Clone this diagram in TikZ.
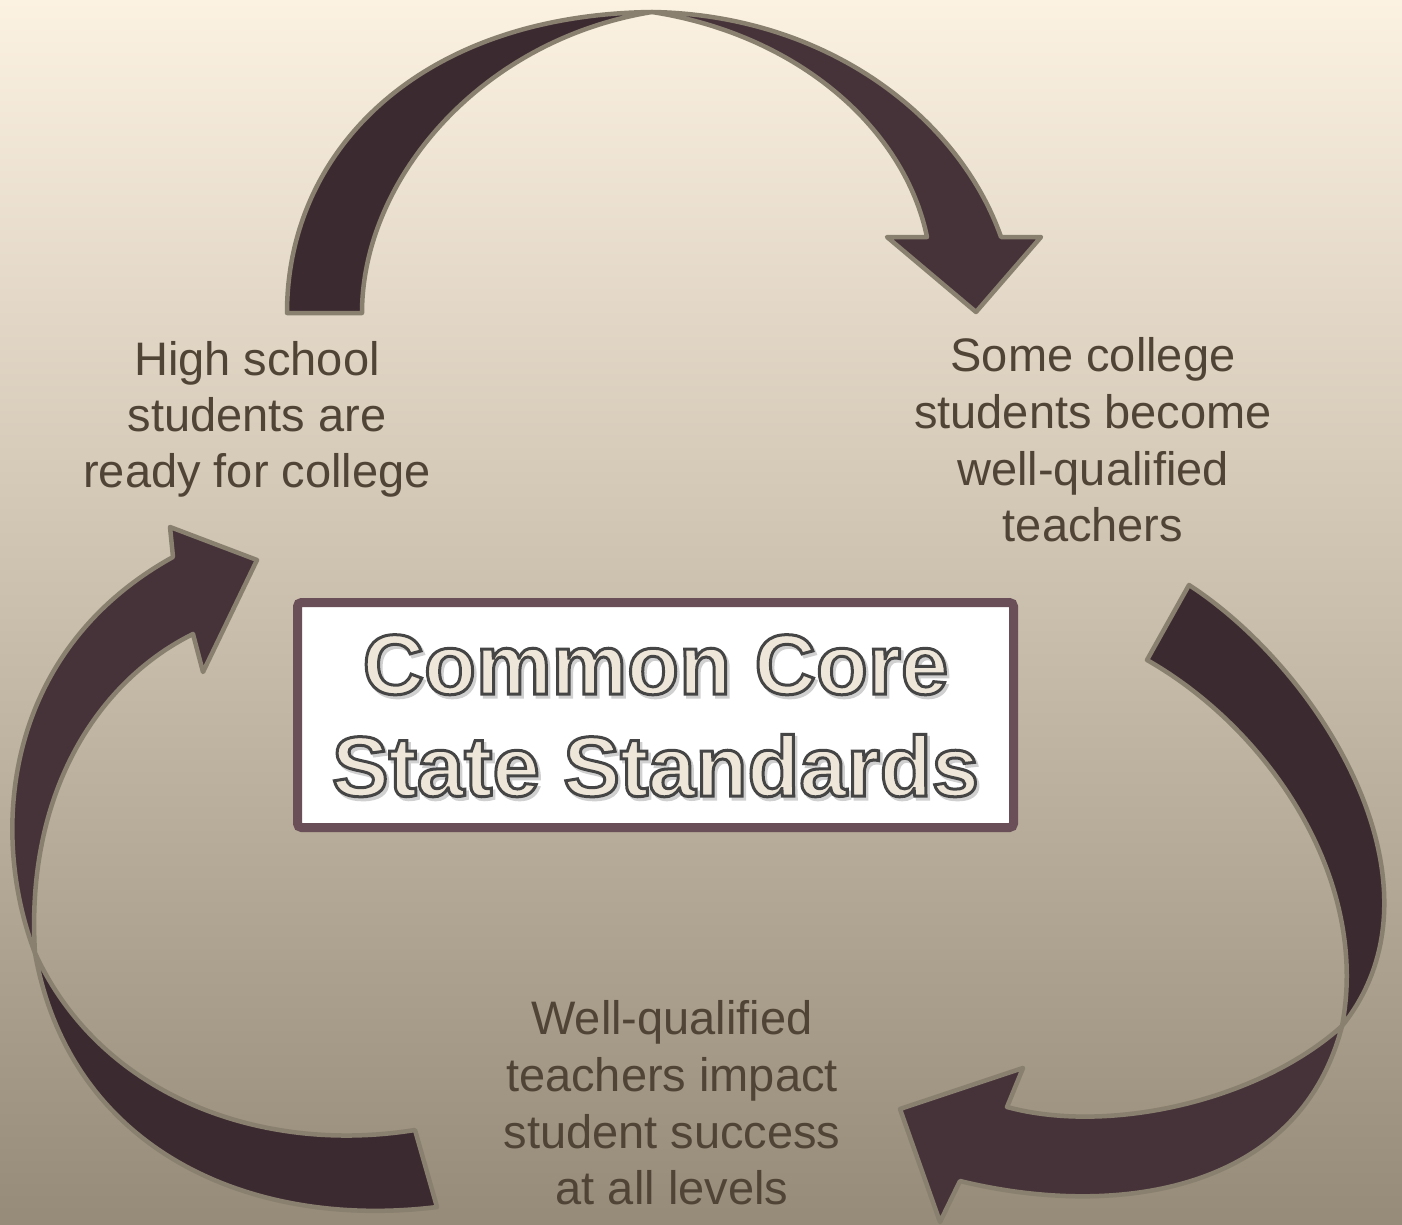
\documentclass[tikz,border=0pt]{standalone}
\usepackage{fontspec}
\setmainfont{Liberation Sans}
\definecolor{bgtop}{RGB}{252,242,226}
\definecolor{bgmid}{RGB}{202,190,172}
\definecolor{bgbot}{RGB}{150,138,120}
\definecolor{arrowdark}{RGB}{60,42,49}
\definecolor{arrowlight}{RGB}{70,51,58}
\definecolor{arrowline}{RGB}{137,128,111}
\definecolor{labelc}{RGB}{80,68,55}
\definecolor{boxc}{RGB}{106,78,88}
\definecolor{creamc}{RGB}{238,230,216}
\definecolor{shadlt}{RGB}{208,208,208}
% outlined text: fill with current colour, stroke with given width and colour
\newcommand\strokedtext[3]{\special{pdf:literal 2 Tr #1 w #2 RG}#3\special{pdf:literal 0 Tr}}
% outlined text with a soft drop shadow behind it
\newcommand\shadowedtitle[1]{\rlap{\kern2.5pt\raisebox{-3pt}{\color{shadlt}\strokedtext{3}{0.815 0.815 0.815}{#1}}}\strokedtext{3}{0.27 0.27 0.27}{#1}}
\begin{document}
\begin{tikzpicture}[x=1pt,y=-1pt,
  tailc/.style={fill=arrowdark, draw=arrowline, line width=4.5pt, line join=round},
  headc/.style={fill=arrowlight, draw=arrowline, line width=4.5pt, line join=round},
  lbl/.style={text=labelc, font=\fontsize{47}{56}\selectfont, anchor=base, inner sep=0pt},
  ttl/.style={text=creamc, font=\fontsize{85}{85}\selectfont\bfseries, anchor=base, inner sep=0pt},
  boxstyle/.style={draw=boxc, fill=white, line width=9pt, rounded corners=4pt, minimum width=716pt, minimum height=225pt, inner sep=0pt}
]
\shade[top color=bgtop, bottom color=bgbot, middle color=bgmid] (0,0) rectangle (1402,1225);
\useasboundingbox (0,0) rectangle (1402,1225);

% top arrow
\path[tailc] (287,313) -- (362,313) .. controls (362,180) and (480,40) .. (652,12)
  .. controls (420,15) and (287,150) .. (287,313) -- cycle;
\path[headc] (652,12) .. controls (830,15) and (960,120) .. (1001,237) -- (1041,237) -- (976,312)
  -- (887,237) -- (927,237) .. controls (905,130) and (800,35) .. (652,12) -- cycle;

% right arrow
\path[tailc] (1189,585) .. controls (1320,670) and (1455,885) .. (1342,1026)
  .. controls (1370,880) and (1270,730) .. (1147,660) -- cycle;
\path[headc] (1342,1026) .. controls (1300,1190) and (1120,1220) .. (960,1181) -- (940,1222)
  -- (900,1109) -- (1023,1068) -- (1007,1107) .. controls (1110,1135) and (1260,1100) .. (1342,1026) -- cycle;

% left arrow
\path[tailc] (415,1130) -- (437,1207) .. controls (250,1230) and (70,1150) .. (35,953)
  .. controls (100,1095) and (260,1155) .. (415,1130) -- cycle;
\path[headc] (35,953) .. controls (-12,830) and (5,650) .. (173,557) -- (170,527) -- (257,560)
  -- (203,672) -- (193,634) .. controls (100,680) and (25,790) .. (35,953) -- cycle;

% labels
\node[lbl] (hs1) at (257,375) {High school};
\node[lbl] (hs2) at (257,431) {students are};
\node[lbl] (hs3) at (257,487) {ready for college};

\node[lbl] (sc1) at (1093,371) {Some college};
\node[lbl] (sc2) at (1093,428) {students become};
\node[lbl] (sc3) at (1093,485) {well-qualified};
\node[lbl] (sc4) at (1093,541) {teachers};

\node[lbl] (wq1) at (672,1034) {Well-qualified};
\node[lbl] (wq2) at (672,1091) {teachers impact};
\node[lbl] (wq3) at (672,1148) {student success};
\node[lbl] (wq4) at (672,1204) {at all levels};

% center box
\node[boxstyle] (ccss) at (655.5,715) {};
\node[ttl] (ccA) at (655.5,694) {\shadowedtitle{Common Core}};
\node[ttl] (ccB) at (655.5,796) {\shadowedtitle{State Standards}};
\end{tikzpicture}
\end{document}
